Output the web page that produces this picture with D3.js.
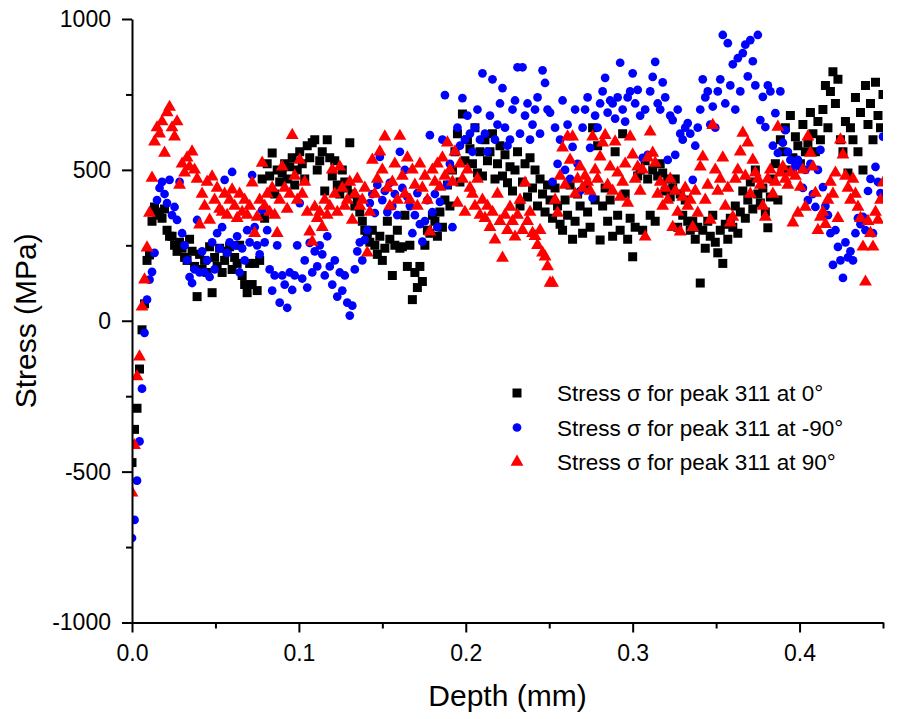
<!DOCTYPE html>
<html>
<head>
<meta charset="utf-8">
<script src="https://cdn.jsdelivr.net/npm/d3@7/dist/d3.min.js"></script>
<style>
  html, body { margin: 0; padding: 0; background: #fff; }
  svg { display: block; font-family: "Liberation Sans", Arial, sans-serif; }
</style>
</head>
<body>
<svg id="chart" width="919" height="719"></svg>
<script>
// Depth sampling: every series is measured on the same depth grid (mm)
const depthStart = 0;
const depthStep = 0.0015;

// Stress (MPa) for peak 311 at 0°
const stress0 = [
  -470, -360, -290, -160, -30, 56, 200, 218, 330, 377, 350, 360,
  340, 370, 300, 280, 280, 250, 230, 260, 240, 210, 200, 270,
  230, 180, 80, 220, 170, 200, 160, 245, 93, 210, 180, 240,
  160, 200, 230, 245, 170, 210, 190, 250, 150, 120, 93, 190,
  120, 190, 100, 200, 470, 340, 520, 480, 556, 420, 500, 460,
  490, 520, 470, 510, 540, 450, 500, 560, 520, 470, 580, 540,
  590, 600, 500, 530, 560, 430, 600, 540, 480, 530, 450, 420,
  500, 460, 440, 590, 420, 380, 400, 360, 330, 300, 280, 260,
  300, 250, 220, 280, 200, 240, 330, 270, 150, 250, 300, 240,
  245, 350, 180, 250, 70, 160, 110, 180, 130, 250, 300, 290,
  350, 330, 280, 360, 310, 400, 450, 380, 500, 560, 620, 460,
  685, 530, 600, 570, 520, 640, 490, 560, 480, 600, 530, 560,
  620, 470, 520, 580, 480, 550, 457, 510, 430, 500, 560, 380,
  460, 520, 410, 540, 440, 500, 380, 470, 420, 360, 450, 400,
  340, 440, 380, 320, 300, 400, 350, 450, 270, 330, 420, 380,
  290, 440, 360, 310, 640, 400, 580, 268, 380, 440, 330, 400,
  280, 560, 350, 300, 620, 420, 270, 340, 212, 310, 480, 500,
  300, 530, 470, 350, 500, 330, 480, 520, 490, 430, 470, 410,
  440, 470, 310, 420, 350, 400, 330, 300, 330, 270, 310, 125,
  300, 240, 330, 280, 350, 260, 225, 300, 190, 320, 270, 340,
  310, 380, 290, 360, 430, 340, 400, 460, 370, 500, 420, 390,
  440, 360, 308, 410, 470, 520, 400, 600, 560, 640, 500, 680,
  540, 610, 580, 520, 650, 560, 590, 690, 620, 560, 660, 600,
  700, 780, 640, 760, 825, 720, 800, 600, 560, 660, 490, 640,
  600, 740, 560, 690, 500, 780, 650, 720, 600, 790, 680, 640,
  750
];

// Stress (MPa) for peak 311 at -90°
const stressMinus90 = [
  -720, -660, -530, -400, -225, -40, 70, 136, 162, 225, 400, 440,
  460, 420, 390, 467, 350, 377, 334, 460, 290, 250, 200, 145,
  125, 170, 334, 160, 230, 160, 200, 145, 260, 170, 290, 240,
  310, 467, 225, 260, 493, 250, 280, 160, 240, 200, 300, 260,
  483, 310, 250, 220, 367, 260, 300, 170, 100, 150, 250, 60,
  150, 120, 43, 160, 102, 150, 250, 390, 140, 200, 110, 258,
  160, 230, 180, 250, 220, 150, 280, 180, 120, 200, 80, 160,
  100, 150, 60, 17, 50, 170, 230, 260, 200, 268, 300, 390,
  420, 357, 450, 543, 400, 430, 360, 457, 380, 420, 350, 560,
  440, 500, 410, 380, 290, 350, 423, 320, 262, 330, 400, 615,
  360, 420, 310, 394, 600, 748, 450, 520, 310, 560, 640, 580,
  738, 600, 680, 620, 560, 640, 700, 600, 820, 620, 560, 680,
  800, 600, 650, 720, 771, 640, 580, 600, 700, 730, 840, 620,
  840, 680, 720, 600, 650, 700, 740, 620, 830, 788, 700, 690,
  460, 640, 520, 600, 730, 500, 650, 470, 576, 700, 520, 430,
  640, 700, 740, 573, 407, 680, 640, 720, 760, 805, 690, 730,
  720, 670, 740, 855, 700, 660, 740, 760, 820, 720, 765, 680,
  540, 700, 550, 760, 808, 858, 720, 700, 790, 740, 533, 680,
  665, 550, 700, 620, 600, 640, 655, 620, 467, 580, 640, 700,
  800, 740, 760, 650, 710, 640, 760, 800, 947, 720, 920, 780,
  850, 700, 870, 760, 887, 915, 810, 930, 860, 780, 947, 665,
  742, 642, 780, 760, 580, 688, 556, 760, 590, 632, 560, 533,
  500, 520, 533, 510, 440, 500, 400, 520, 420, 377, 500, 566,
  443, 380, 350, 290, 185, 300, 245, 200, 142, 260, 210, 230,
  200, 290, 340, 320, 344, 300, 430, 470, 290, 510, 460, 423,
  610
];

// Stress (MPa) for peak 311 at 90°
const stress90 = [
  -570, -413, -185, -119, 46, 136, 242, 357, 473, 593, 640, 620,
  660, 556, 690, 708, 640, 610, 660, 450, 520, 490, 540, 510,
  560, 500, 470, 318, 420, 380, 460, 334, 477, 400, 440, 370,
  360, 420, 350, 400, 434, 380, 340, 420, 360, 400, 350, 380,
  457, 290, 344, 400, 523, 380, 420, 360, 440, 350, 290, 400,
  510, 440, 370, 420, 615, 480, 400, 533, 420, 460, 360, 295,
  262, 377, 340, 360, 310, 400, 350, 380, 500, 420, 360, 510,
  440, 380, 400, 460, 334, 420, 470, 380, 400, 440, 225, 360,
  533, 420, 470, 560, 500, 610, 440, 380, 460, 520, 400, 612,
  480, 420, 540, 400, 500, 450, 380, 520, 440, 480, 400, 295,
  500, 460, 520, 443, 540, 480, 590, 500, 460, 560, 390, 520,
  470, 360, 500, 440, 420, 380, 470, 350, 400, 340, 380, 310,
  360, 268, 420, 330, 208, 350, 300, 377, 330, 278, 350, 400,
  300, 457, 330, 360, 290, 280, 250, 300, 225, 212, 180, 125,
  125, 400, 357, 480, 573, 450, 610, 533, 610, 420, 470, 510,
  440, 480, 460, 430, 610, 500, 470, 543, 590, 615, 450, 510,
  430, 593, 490, 410, 460, 520, 390, 610, 550, 470, 510, 430,
  500, 278, 540, 626, 556, 523, 420, 460, 380, 440, 400, 470,
  310, 430, 360, 295, 410, 440, 380, 400, 310, 430, 357, 510,
  543, 400, 450, 334, 648, 500, 430, 470, 540, 380, 440, 325,
  344, 470, 500, 560, 622, 480, 590, 420, 533, 490, 470, 450,
  380, 344, 470, 500, 420, 460, 642, 490, 510, 470, 450, 490,
  325, 480, 357, 443, 500, 377, 610, 556, 510, 423, 300, 344,
  360, 320, 400, 460, 420, 490, 340, 600, 550, 480, 440, 400,
  470, 420, 377, 340, 245, 129, 330, 290, 245, 360, 334, 400,
  457
];

// Axis ticks
const yMajorTicks = [-1000, -500, 0, 500, 1000];
const yMinorTicks = [-750, -250, 250, 750];
const xMajorTicks = [0.0, 0.1, 0.2, 0.3, 0.4];
const xMinorTicks = [0.05, 0.15, 0.25, 0.35, 0.45];

const legendLabels = [
  "Stress σ for peak 311 at 0°",
  "Stress σ for peak 311 at -90°",
  "Stress σ for peak 311 at 90°"
];

const svg = d3.select("#chart");
const plot = { left: 132, right: 883, top: 19, bottom: 622.5 };

const x = d3.scaleLinear().domain([0, 0.45]).range([plot.left, plot.right]);
const y = d3.scaleLinear().domain([-1000, 1000]).range([plot.bottom, plot.top]);

const toPoints = vals => vals.map((v, i) => ({ depth: depthStart + i * depthStep, stress: v }));

svg.append("defs").append("clipPath").attr("id", "plot-clip")
  .append("rect")
  .attr("x", plot.left).attr("y", plot.top - 10)
  .attr("width", plot.right - plot.left)
  .attr("height", plot.bottom - plot.top + 10);

// Marker shapes
const squareSym = d3.symbol().type(d3.symbolSquare).size(81);
const circleSym = d3.symbol().type(d3.symbolCircle).size(60);
const triangleSym = d3.symbol().type(d3.symbolTriangle).size(72);

const series = [
  { data: toPoints(stress0), color: "#000000", sym: squareSym },
  { data: toPoints(stressMinus90), color: "#0000ff", sym: circleSym },
  { data: toPoints(stress90), color: "#ff0000", sym: triangleSym }
];

const marks = svg.append("g").attr("clip-path", "url(#plot-clip)");
series.forEach(s => {
  marks.append("g")
    .selectAll("path")
    .data(s.data)
    .join("path")
    .attr("d", s.sym)
    .attr("fill", s.color)
    .attr("transform", d => `translate(${x(d.depth)},${y(d.stress)})`);
});

// Axes
function styleAxis(g) {
  g.selectAll(".domain").attr("stroke", "#000").attr("stroke-width", 2);
  g.selectAll(".tick line").attr("stroke", "#000").attr("stroke-width", 2);
  g.selectAll(".tick text")
    .attr("fill", "#000")
    .style("font-size", "23px")
    .style("font-family", "'Liberation Sans', Arial, sans-serif");
}

const yAxis = svg.append("g")
  .attr("transform", `translate(${plot.left},0)`)
  .call(d3.axisLeft(y).tickValues(yMajorTicks).tickSize(10).tickPadding(11)
    .tickFormat(d => String(d)).tickSizeOuter(0));
styleAxis(yAxis);

const yMinor = svg.append("g")
  .attr("transform", `translate(${plot.left},0)`)
  .call(d3.axisLeft(y).tickValues(yMinorTicks).tickSize(6).tickFormat("").tickSizeOuter(0));
styleAxis(yMinor);
yMinor.select(".domain").remove();

const xAxis = svg.append("g")
  .attr("transform", `translate(0,${plot.bottom})`)
  .call(d3.axisBottom(x).tickValues(xMajorTicks).tickSize(10).tickPadding(12)
    .tickFormat(d3.format(".1f")).tickSizeOuter(0));
styleAxis(xAxis);

const xMinor = svg.append("g")
  .attr("transform", `translate(0,${plot.bottom})`)
  .call(d3.axisBottom(x).tickValues(xMinorTicks).tickSize(6).tickFormat("").tickSizeOuter(0));
styleAxis(xMinor);
xMinor.select(".domain").remove();

// Axis titles
svg.append("text")
  .attr("x", (plot.left + plot.right) / 2)
  .attr("y", 706)
  .attr("text-anchor", "middle")
  .style("font-size", "30px")
  .text("Depth (mm)");

svg.append("text")
  .attr("transform", `translate(36,${(plot.top + plot.bottom) / 2}) rotate(-90)`)
  .attr("text-anchor", "middle")
  .style("font-size", "30px")
  .text("Stress (MPa)");

// Legend
const legend = svg.append("g").attr("transform", "translate(517,393)");
series.forEach((s, i) => {
  const row = legend.append("g").attr("transform", `translate(0,${i * 34.5})`);
  row.append("path").attr("d", s.sym).attr("fill", s.color);
  row.append("text")
    .attr("x", 40)
    .attr("y", 8)
    .style("font-size", "22.5px")
    .text(legendLabels[i]);
});
</script>
</body>
</html>
